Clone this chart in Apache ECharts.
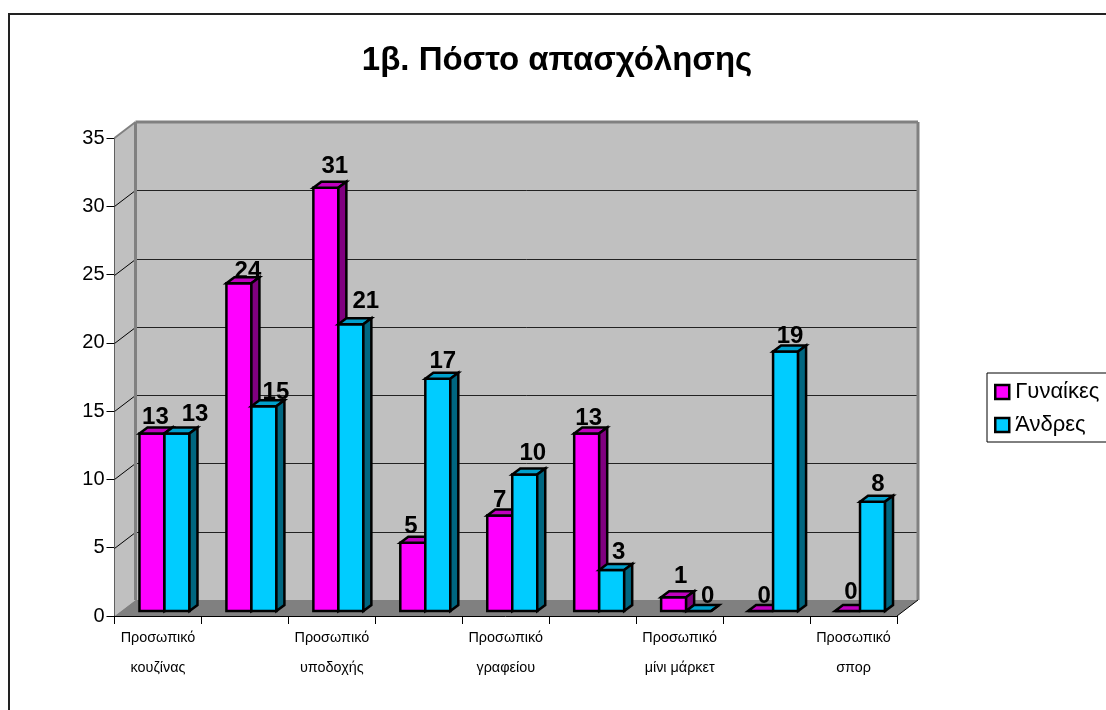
<!DOCTYPE html>
<html>
<head>
<meta charset="utf-8">
<style>
  html,body{margin:0;padding:0;background:#fff;}
  #chart{width:1106px;height:710px;}
</style>
<script src="https://cdn.jsdelivr.net/npm/echarts@6/dist/echarts.min.js"></script>
</head>
<body>
<div id="chart"></div>
<script>
// only every other category label is printed in the picture
const categories = ['Προσωπικό\nκουζίνας', '', 'Προσωπικό\nυποδοχής', '', 'Προσωπικό\nγραφείου', '', 'Προσωπικό\nμίνι μάρκετ', '', 'Προσωπικό\nσπορ']
const women = [13, 24, 31, 5, 7, 13, 1, 0, 0]
const men = [13, 15, 21, 17, 10, 3, 0, 19, 8]
const yTicks = [0, 5, 10, 15, 20, 25, 30, 35]

// hand placed labels in the original, nudges from the top of each bar
const womenNudgeX = [3.5, 9, 9, -2, 0, 2, 7, 3.5, 3.5]
const womenNudgeY = [16, 12, 21, 16, 15, 15, 21, 15, 19]
const menNudgeX = [18, 12, 15, 5, 8, 7, 9, 4.5, 5.5]
const menNudgeY = [19, 14, 23, 17, 21, 18, 15, 15, 17]

const FONT = '"Liberation Sans", Arial, sans-serif'
const WALL_DX = 21, WALL_DY = 16
const BAR_DX = 6.5, BAR_DY = 5
const SIDE_DX = 8, SIDE_DY = 6
const BAR_SHARE = 25 / 86.94

const palette = [
  { front: '#ff00ff', top: '#c000c0', side: '#800080' },
  { front: '#00ccff', top: '#00a0cc', side: '#006680' }
]

function poly(points, fill, stroke, width) {
  return { type: 'polygon', shape: { points: points }, style: { fill: fill, stroke: stroke || null, lineWidth: width || 0, lineJoin: 'miter' } }
}
function line(x1, y1, x2, y2, stroke, width) {
  return { type: 'line', shape: { x1: x1, y1: y1, x2: x2, y2: y2 }, style: { stroke: stroke, lineWidth: width } }
}

function renderWalls(params, api) {
  const c = params.coordSys
  const l = c.x, r = c.x + c.width, t = c.y, b = c.y + c.height
  const kids = [
    poly([[l + WALL_DX, t - WALL_DY], [r + WALL_DX, t - WALL_DY], [r + WALL_DX, b - WALL_DY], [l + WALL_DX, b - WALL_DY]], '#c0c0c0'),
    poly([[l, t], [l + WALL_DX, t - WALL_DY], [l + WALL_DX, b - WALL_DY], [l, b]], '#c0c0c0'),
    poly([[l, b], [l + WALL_DX, b - WALL_DY], [r + WALL_DX, b - WALL_DY], [r, b]], '#808080')
  ]
  yTicks.slice(1, -1).forEach(function (v) {
    const y = Math.round(api.coord([0, v])[1]) + 0.5
    kids.push(line(l, y, l + WALL_DX, y - WALL_DY, '#000', 1))
    kids.push(line(l + WALL_DX, y - WALL_DY, r + WALL_DX, y - WALL_DY, '#222', 1))
  })
  kids.push(line(l + WALL_DX, t - WALL_DY, r + WALL_DX, t - WALL_DY, '#808080', 3))
  kids.push(line(l + WALL_DX, t - WALL_DY, l + WALL_DX, b - WALL_DY, '#808080', 3))
  kids.push(line(r + WALL_DX, t - WALL_DY, r + WALL_DX, b - WALL_DY, '#808080', 3))
  kids.push(line(l, t, l + WALL_DX, t - WALL_DY, '#808080', 2))
  kids.push(line(r, b, r + WALL_DX, b - WALL_DY, '#000', 1))
  return { type: 'group', children: kids }
}

function makeBarRenderer(index) {
  const col = palette[index]
  return function (params, api) {
    const top = api.coord([api.value(0), api.value(1)])
    const base = api.coord([api.value(0), 0])
    const w = api.size([1, 0])[0] * BAR_SHARE
    const x0 = top[0] + BAR_DX + (index - 1) * w
    const x1 = x0 + w
    const yt = top[1] - BAR_DY
    const yb = base[1] - BAR_DY
    return {
      type: 'group',
      children: [
        poly([[x0, yb], [x1, yb], [x1, yt], [x0, yt]], col.front, '#000', 2.5),
        poly([[x0, yt], [x0 + SIDE_DX, yt - SIDE_DY], [x1 + SIDE_DX, yt - SIDE_DY], [x1, yt]], col.top, '#000', 2.5),
        poly([[x1, yb], [x1 + SIDE_DX, yb - SIDE_DY], [x1 + SIDE_DX, yt - SIDE_DY], [x1, yt]], col.side, '#000', 2.5)
      ]
    }
  }
}

function makeLabelRenderer(index, nudgeX, nudgeY) {
  return function (params, api) {
    const i = api.value(0)
    const top = api.coord([i, api.value(1)])
    const w = api.size([1, 0])[0] * BAR_SHARE
    const x = top[0] + BAR_DX + (index - 1) * w + w / 2 + nudgeX[i]
    const y = top[1] - BAR_DY - nudgeY[i]
    return {
      type: 'text',
      style: { text: String(api.value(1)), x: x, y: y, fill: '#000', font: 'bold 24px ' + FONT, align: 'center', verticalAlign: 'middle' }
    }
  }
}

const toPairs = function (arr) { return arr.map(function (v, i) { return [i, v] }) }

const myChart = echarts.init(document.getElementById('chart'))
myChart.setOption({
  animation: false,
  backgroundColor: '#fff',
  title: {
    text: '1β. Πόστο απασχόλησης',
    left: 552, top: 39, textAlign: 'center',
    textStyle: { fontFamily: FONT, fontSize: 33, fontWeight: 'bold', color: '#000' }
  },
  legend: {
    data: ['Γυναίκες', 'Άνδρες'],
    orient: 'vertical',
    left: 987, top: 373,
    icon: 'rect',
    itemWidth: 14, itemHeight: 14, itemGap: 11,
    padding: [8, 40, 6, 7],
    borderColor: '#000', borderWidth: 1,
    itemStyle: { borderColor: '#000', borderWidth: 2.5 },
    textStyle: { fontFamily: FONT, fontSize: 22, color: '#000', padding: [0, 0, 0, 1] }
  },
  graphic: [{
    type: 'rect', z: -1,
    shape: { x: 9, y: 14, width: 1200, height: 800 },
    style: { fill: null, stroke: '#222', lineWidth: 2 }
  }],
  grid: { left: 114.5, right: 209, top: 138, height: 478 },
  xAxis: {
    type: 'category',
    data: categories,
    axisLine: { lineStyle: { color: '#000', width: 1 } },
    axisTick: { show: true, interval: 0, length: 8, lineStyle: { color: '#000' } },
    splitLine: { show: false },
    axisLabel: { interval: 0, margin: 7, fontFamily: FONT, fontSize: 14.4, color: '#000', lineHeight: 30 }
  },
  yAxis: {
    type: 'value',
    min: 0, max: 35, interval: 5,
    axisLine: { show: true, lineStyle: { color: '#000', width: 1 } },
    axisTick: { show: true, length: 8, lineStyle: { color: '#000' } },
    splitLine: { show: false },
    axisLabel: { margin: 10, fontFamily: FONT, fontSize: 20, color: '#000' }
  },
  series: [
    { type: 'custom', z: 1, silent: true, clip: false, data: [[0, 0]], renderItem: renderWalls },
    { type: 'custom', z: 2, silent: true, clip: false, data: toPairs(women), renderItem: makeLabelRenderer(0, womenNudgeX, womenNudgeY) },
    { type: 'custom', z: 2, silent: true, clip: false, data: toPairs(men), renderItem: makeLabelRenderer(1, menNudgeX, menNudgeY) },
    { name: 'Γυναίκες', type: 'custom', z: 3, clip: false, itemStyle: { color: palette[0].front }, data: toPairs(women), renderItem: makeBarRenderer(0) },
    { name: 'Άνδρες', type: 'custom', z: 4, clip: false, itemStyle: { color: palette[1].front }, data: toPairs(men), renderItem: makeBarRenderer(1) }
  ]
})
</script>
</body>
</html>
